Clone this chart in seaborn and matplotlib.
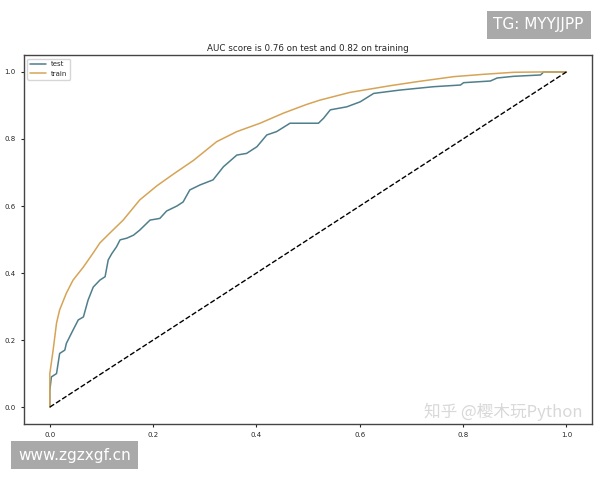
import numpy as np
import pandas as pd
import matplotlib
matplotlib.use("Agg")
import matplotlib.pyplot as plt
import seaborn as sns

# ROC points
test_fpr = [0.0, 0.0, 0.003, 0.013, 0.019, 0.029, 0.032, 0.045, 0.055, 0.065, 0.074, 0.084,
            0.097, 0.107, 0.113, 0.120, 0.129, 0.136, 0.149, 0.162, 0.174, 0.194, 0.213,
            0.226, 0.246, 0.258, 0.271, 0.291, 0.316, 0.336, 0.362, 0.381, 0.401, 0.420,
            0.439, 0.465, 0.484, 0.520, 0.530, 0.543, 0.575, 0.601, 0.627, 0.678, 0.743,
            0.795, 0.801, 0.853, 0.866, 0.898, 0.950, 0.956, 1.0]
test_tpr = [0.0, 0.05, 0.090, 0.100, 0.160, 0.170, 0.190, 0.230, 0.260, 0.269, 0.319, 0.358,
            0.379, 0.389, 0.439, 0.458, 0.478, 0.499, 0.504, 0.513, 0.528, 0.558, 0.563,
            0.585, 0.600, 0.612, 0.648, 0.663, 0.678, 0.717, 0.752, 0.757, 0.777, 0.812,
            0.822, 0.847, 0.847, 0.847, 0.862, 0.887, 0.896, 0.911, 0.936, 0.946, 0.956,
            0.961, 0.968, 0.973, 0.982, 0.987, 0.991, 1.0, 1.0]

train_fpr = [0.0, 0.0, 0.0064, 0.013, 0.019, 0.032, 0.045, 0.065, 0.084, 0.097, 0.116,
             0.142, 0.174, 0.207, 0.239, 0.278, 0.323, 0.362, 0.407, 0.452, 0.497, 0.523,
             0.581, 0.659, 0.711, 0.782, 0.840, 0.898, 0.950, 1.0]
train_tpr = [0.0, 0.10, 0.170, 0.251, 0.290, 0.340, 0.379, 0.418, 0.460, 0.490, 0.519,
             0.558, 0.618, 0.660, 0.695, 0.736, 0.792, 0.822, 0.847, 0.877, 0.903, 0.916,
             0.939, 0.959, 0.971, 0.986, 0.993, 0.999, 1.0, 1.0]

auc_test = 0.76
auc_train = 0.82

df = pd.concat([
    pd.DataFrame({"fpr": test_fpr, "tpr": test_tpr, "set": "test"}),
    pd.DataFrame({"fpr": train_fpr, "tpr": train_tpr, "set": "train"}),
])

sns.set_style("white")
fig = plt.figure(figsize=(6, 4.8), dpi=100)
ax = fig.add_axes([0.04, 0.117, 0.947, 0.768])

sns.lineplot(data=df, x="fpr", y="tpr", hue="set", estimator=None, sort=False,
             palette={"test": "#4f7f8c", "train": "#d6a456"}, linewidth=1.1, ax=ax)
ax.plot([0, 1], [0, 1], "k--", linewidth=1)

ax.set_xlim(-0.05, 1.05)
ax.set_ylim(-0.05, 1.05)
ax.set_xticks(np.arange(0, 1.01, 0.2))
ax.set_yticks(np.arange(0, 1.01, 0.2))
ax.tick_params(labelsize=5, length=2.5, direction="out", left=True, bottom=True)
ax.set_xlabel("")
ax.set_ylabel("")
for s in ax.spines.values():
    s.set_color("#444444")
    s.set_linewidth(1)
ax.set_title(f"AUC score is {auc_test} on test and {auc_train} on training", fontsize=6.3, pad=3)
ax.legend(loc="upper left", fontsize=5, handlelength=2.2, frameon=True, borderpad=0.4)

# watermarks from the reference
fig.text(0.973, 0.948, "TG: MYYJJPP", ha="right", va="center", fontsize=11, color="white",
         bbox=dict(boxstyle="square,pad=0.45", fc="#a9a9a9", ec="none"))
fig.text(0.03, 0.052, "www.zgzxgf.cn", ha="left", va="center", fontsize=11, color="white",
         bbox=dict(boxstyle="square,pad=0.45", fc="#a9a9a9", ec="none"))
fig.text(0.97, 0.142, "知乎 @樱木玩Python", ha="right", va="center", fontsize=12,
         color="#d8d8d8", family=["Noto Sans CJK SC", "DejaVu Sans"])

fig.savefig("out.png", dpi=100)
